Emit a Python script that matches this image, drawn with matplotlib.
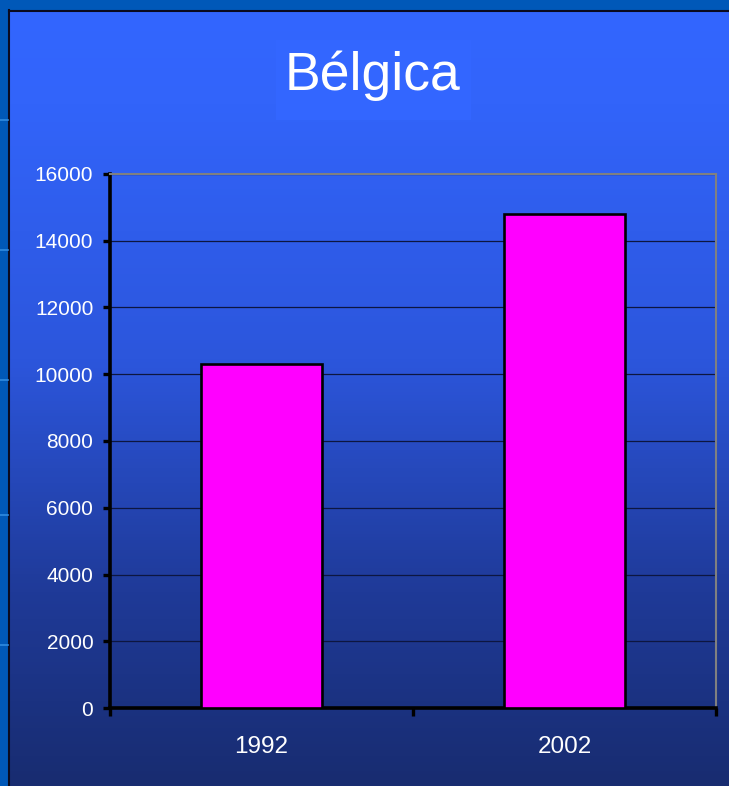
import numpy as np
import matplotlib
matplotlib.use("Agg")
import matplotlib.pyplot as plt
from matplotlib.colors import LinearSegmentedColormap
from matplotlib.patches import Rectangle

title = "Bélgica"
categories = ["1992", "2002"]
values = [10300, 14800]
yticks = [0, 2000, 4000, 6000, 8000, 10000, 12000, 14000, 16000]

W, H = 729, 786
fig = plt.figure(figsize=(W / 100, H / 100), dpi=100)
fig.patch.set_facecolor("#0058B8")

# background panel with vertical gradient
bg = fig.add_axes([0, 0, 1, 1], zorder=0)
bg.set_xlim(0, W)
bg.set_ylim(H, 0)
bg.axis("off")
cmap = LinearSegmentedColormap.from_list(
    "bg", [(0.0, "#3366FF"), (0.12, "#3264FA"), (0.45, "#2C56DC"),
           (0.75, "#1F3A98"), (1.0, "#182C70")])
grad = np.linspace(0, 1, 256).reshape(-1, 1)
bg.imshow(grad, cmap=cmap, aspect="auto", extent=[9, W, H, 10], zorder=0)
bg.plot([9.5, 9.5], [10, H], color="#0A0A20", lw=1.5, zorder=1)
bg.plot([9, W], [10.5, 10.5], color="#0A0A20", lw=1.5, zorder=1)
for yy in [120, 250, 380, 515, 645]:
    bg.plot([0, 8], [yy, yy], color="#2F8BE0", lw=1.2, zorder=1)
bg.add_patch(Rectangle((276, 40), 195, 80, facecolor="#3366FF",
                       edgecolor="none", zorder=2))
bg.text(373, 90, title, color="white", fontsize=38.5, ha="center",
        va="baseline", family=["Liberation Sans", "DejaVu Sans"], zorder=3)

ax = fig.add_axes([110 / W, 1 - 708 / H, (716 - 110) / W, (708 - 174) / H],
                  zorder=1)
ax.patch.set_alpha(0)
x = np.arange(len(categories)) + 0.5
ax.bar(x, values, width=0.4, color="#FF00FF", edgecolor="black",
       linewidth=1.9, zorder=3)
ax.set_xlim(0, len(categories))
ax.set_ylim(0, 16000)
ax.set_yticks(yticks)
ax.set_yticklabels([str(v) for v in yticks])
ax.yaxis.grid(True, color="#0D1640", lw=0.9, zorder=1)
ax.set_axisbelow(True)

ax.set_xticks(np.arange(len(categories) + 1))
ax.set_xticklabels([])
ax.set_xticks(x, minor=True)
ax.set_xticklabels(categories, minor=True)
ax.tick_params(axis="x", which="major", direction="out", length=6,
               width=2.4, color="black")
ax.tick_params(axis="x", which="minor", length=0, pad=20.5)
ax.tick_params(axis="y", direction="out", length=5, width=2.4,
               color="black", pad=7)
for lab in ax.get_yticklabels():
    lab.set_color("white")
    lab.set_fontsize(15)
    lab.set_family(["Liberation Sans", "DejaVu Sans"])
for lab in ax.get_xticklabels(minor=True):
    lab.set_color("white")
    lab.set_fontsize(17.5)
    lab.set_family(["Liberation Sans", "DejaVu Sans"])

ax.spines["left"].set_color("black")
ax.spines["left"].set_linewidth(2.6)
ax.spines["bottom"].set_color("black")
ax.spines["bottom"].set_linewidth(2.6)
ax.spines["top"].set_color("#808080")
ax.spines["top"].set_linewidth(1.5)
ax.spines["right"].set_color("#808080")
ax.spines["right"].set_linewidth(1.5)

fig.savefig("out.png", dpi=100)
